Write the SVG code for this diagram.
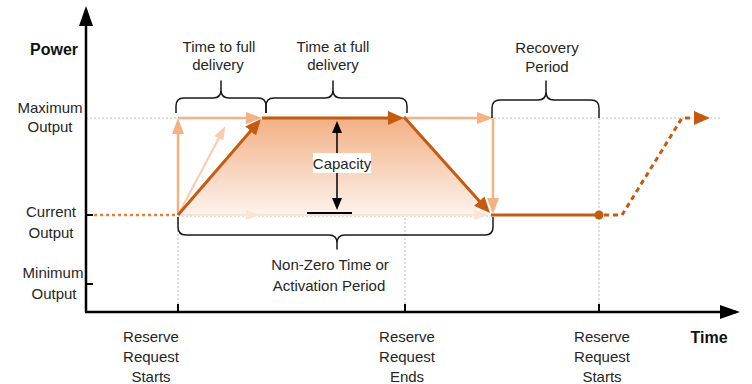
<svg xmlns="http://www.w3.org/2000/svg" width="752" height="384" viewBox="0 0 752 384">
  <defs>
    <linearGradient id="capFill" x1="0" y1="0" x2="0" y2="1">
      <stop offset="0" stop-color="#F3B084"/>
      <stop offset="1" stop-color="#FDF3ED"/>
    </linearGradient>
    <marker id="ahDark" markerUnits="userSpaceOnUse" viewBox="0 0 16 14" markerWidth="16" markerHeight="14" refX="12" refY="7" orient="auto">
      <path d="M0,0 L16,7 L0,14 z" fill="#C55A11"/>
    </marker>
    <marker id="ahLight" markerUnits="userSpaceOnUse" viewBox="0 0 16 12" markerWidth="16" markerHeight="12" refX="12" refY="6" orient="auto">
      <path d="M0,0 L16,6 L0,12 z" fill="#F4B183"/>
    </marker>
    <marker id="ahPale" markerUnits="userSpaceOnUse" viewBox="0 0 14 10" markerWidth="14" markerHeight="10" refX="10" refY="5" orient="auto">
      <path d="M0,0 L14,5 L0,10 z" fill="#F8CBAD"/>
    </marker>
    <marker id="ahFaint" markerUnits="userSpaceOnUse" viewBox="0 0 14 10" markerWidth="14" markerHeight="10" refX="10" refY="5" orient="auto">
      <path d="M0,0 L14,5 L0,10 z" fill="#FBE3D4"/>
    </marker>
    <marker id="ahBlack" markerUnits="userSpaceOnUse" viewBox="0 0 12 10" markerWidth="12" markerHeight="10" refX="9" refY="5" orient="auto">
      <path d="M0,0 L12,5 L0,10 z" fill="#000"/>
    </marker>
    <marker id="ahAxis" markerUnits="userSpaceOnUse" viewBox="0 0 20 14" markerWidth="20" markerHeight="14" refX="16" refY="7" orient="auto">
      <path d="M0,0 L20,7 L0,14 z" fill="#000"/>
    </marker>
  </defs>
  <style>
    .guide { fill: none; stroke: #BDBDBD; stroke-width: 1; stroke-dasharray: 2 2; }
    .dark { fill: none; stroke: #C55A11; stroke-width: 3; }
    .darkDot { fill: none; stroke: #C55A11; stroke-width: 3; stroke-dasharray: 5 4; }
    .light { fill: none; stroke: #F4B183; stroke-width: 2.5; }
    .pale { fill: none; stroke: #F8CBAD; stroke-width: 2; }
    .faint { fill: none; stroke: #FBE3D4; stroke-width: 2; }
    .brace { fill: none; stroke: #1A1A1A; stroke-width: 1.5; stroke-linejoin: round; }
    .axis { fill: none; stroke: #000; stroke-width: 2.5; }
    .tick { fill: none; stroke: #000; stroke-width: 2; }
    text { font-family: "Liberation Sans", Arial, sans-serif; font-size: 15px; fill: #262626; text-anchor: middle; }
    .title { font-weight: bold; font-size: 16px; fill: #111; }
  </style>

  <!-- capacity area under the delivery profile -->
  <path id="capacity-area" d="M178,215 L263,118 L405,118 L493,215 z" fill="url(#capFill)"/>

  <!-- dotted reference lines -->
  <g id="guides">
    <path class="guide" d="M86,118 H720"/>
    <path class="guide" d="M178,216 H493"/>
    <path class="guide" d="M178,218 V312"/>
    <path class="guide" d="M405,218 V312"/>
    <path class="guide" d="M599,118 V312"/>
  </g>

  <g id="connectors">
    <!-- pre-request output -->
    <path d="M94,215 H178" fill="none" stroke="#E8803A" stroke-width="2.5" stroke-dasharray="3 3"/>
    <!-- faint baseline arrows -->
    <path class="faint" d="M178,215 H256" marker-end="url(#ahFaint)"/>
    <path class="faint" d="M256,215 H405"/>
    <path class="faint" d="M405,215 H484" marker-end="url(#ahFaint)"/>
    <!-- alternative (faster) ramps -->
    <path class="pale" d="M178,215 L223.5,129.5" marker-end="url(#ahPale)"/>
    <path class="light" d="M178,215 V122" marker-end="url(#ahLight)"/>
    <path class="light" d="M178,118 H258" marker-end="url(#ahLight)"/>
    <path class="light" d="M405,118 H489" marker-end="url(#ahLight)"/>
    <path class="light" d="M493,118 V210" marker-end="url(#ahLight)"/>
    <!-- actual delivery profile -->
    <path class="dark" d="M178,215 L258.4,122" marker-end="url(#ahDark)"/>
    <path class="dark" d="M262,118 H400" marker-end="url(#ahDark)"/>
    <path class="dark" d="M404,117 L487.3,210" marker-end="url(#ahDark)"/>
    <path class="dark" d="M491,215 H599"/>
    <circle cx="599" cy="215" r="4.5" fill="#C55A11"/>
    <path class="darkDot" d="M604,215 H622 L682,118 H706" marker-end="url(#ahDark)" stroke-linejoin="round"/>
  </g>

  <!-- braces -->
  <g id="brace-time-to-full">
    <path class="brace" d="M176,113 L176,106 Q176,98 184,98 L213,98 Q221,98 221,90 L221,81 L221,90 Q221,98 229,98 L258,98 Q266,98 266,106 L266,113"/>
    <text x="219" y="52">Time to full</text>
    <text x="218" y="70">delivery</text>
  </g>
  <g id="brace-time-at-full">
    <path class="brace" d="M266,113 L266,106 Q266,98 274,98 L325,98 Q333,98 333,90 L333,81 L333,90 Q333,98 341,98 L399,98 Q407,98 407,106 L407,113"/>
    <text x="333" y="52">Time at full</text>
    <text x="333" y="70">delivery</text>
  </g>
  <g id="brace-recovery">
    <path class="brace" d="M492,118 L492,108 Q492,100 500,100 L538,100 Q546,100 546,92 L546,81 L546,92 Q546,100 554,100 L591,100 Q599,100 599,108 L599,118"/>
    <text x="547" y="53">Recovery</text>
    <text x="547" y="72">Period</text>
  </g>
  <g id="brace-activation">
    <path class="brace" d="M178,217 L178,227 Q178,235 186,235 L329,235 Q337,235 337,243 L337,249 L337,243 Q337,235 345,235 L485,235 Q493,235 493,227 L493,217"/>
    <text x="330" y="270">Non-Zero Time or</text>
    <text x="329" y="291">Activation Period</text>
  </g>

  <!-- capacity measure -->
  <g id="capacity">
    <path d="M337,166 V124" fill="none" stroke="#000" stroke-width="1.5" marker-end="url(#ahBlack)"/>
    <path d="M337,166 V207" fill="none" stroke="#000" stroke-width="1.5" marker-end="url(#ahBlack)"/>
    <path d="M307,213 H352" fill="none" stroke="#000" stroke-width="2"/>
    <rect x="313" y="153" width="58" height="20" fill="#FFFFFF"/>
    <text x="342" y="169">Capacity</text>
  </g>

  <!-- axes -->
  <g id="axes">
    <path class="axis" d="M86,312 V10" marker-end="url(#ahAxis)"/>
    <path class="axis" d="M85,312 H736" marker-end="url(#ahAxis)"/>
    <path class="tick" d="M86,215 H93 M86,284 H93"/>
    <path class="tick" d="M178,304 V312 M405,304 V312 M599,304 V312"/>
  </g>

  <g id="y-labels">
    <text class="title" x="54" y="55">Power</text>
    <text x="50" y="113">Maximum</text>
    <text x="50" y="132">Output</text>
    <text x="51" y="217">Current</text>
    <text x="51" y="238">Output</text>
    <text x="53" y="278">Minimum</text>
    <text x="54" y="299">Output</text>
  </g>

  <g id="x-labels">
    <text class="title" x="709" y="343">Time</text>
    <text x="151" y="342">Reserve</text>
    <text x="151" y="362">Request</text>
    <text x="151" y="382">Starts</text>
    <text x="407" y="342">Reserve</text>
    <text x="407" y="362">Request</text>
    <text x="407" y="382">Ends</text>
    <text x="602" y="342">Reserve</text>
    <text x="602" y="362">Request</text>
    <text x="602" y="382">Starts</text>
  </g>
</svg>
